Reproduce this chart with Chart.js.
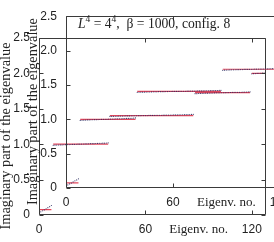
<!DOCTYPE html>
<html><head><meta charset="utf-8">
<script src="https://cdn.jsdelivr.net/npm/chart.js@4/dist/chart.umd.min.js"></script>
<style>
html,body{margin:0;padding:0;background:#fff;overflow:hidden;width:274px;height:242px}
.wrap{position:absolute;left:0;top:0}
</style></head><body>
<div class="wrap"><canvas id="back" width="274" height="242"></canvas></div>
<div class="wrap"><canvas id="front" width="300" height="242"></canvas></div>
<script>
// ---- data ----
// imaginary part of each eigenvalue, eigenvalue number = array index (0..127)
const level1Values = [0.03,0.045,0.06,0.072,0.088,0.104,0.118,0.134];
const level2Values = [0.984,0.986,0.987,0.989,0.990,0.990,0.992,0.993,0.994,0.994,0.996,0.997,0.998,0.999,1.000,1.000,
                      1.002,1.003,1.004,1.004,1.006,1.007,1.008,1.008,1.010,1.011,1.012,1.013,1.014,1.015,1.017,1.019];
const level3Values = [1.392,1.393,1.394,1.395,1.395,1.396,1.397,1.397,1.398,1.399,1.399,1.400,1.401,1.401,1.402,1.402,
                      1.403,1.403,1.404,1.404,1.405,1.405,1.406,1.406,1.407,1.407,1.408,1.408,1.409,1.409,1.410,1.410,
                      1.411,1.411,1.412,1.412,1.413,1.413,1.414,1.415,1.415,1.416,1.417,1.417,1.418,1.419,1.420,1.422];
const level4Values = [1.713,1.714,1.716,1.717,1.718,1.719,1.720,1.721,1.722,1.722,1.723,1.724,1.725,1.725,1.726,1.727,
                      1.727,1.728,1.729,1.729,1.730,1.731,1.731,1.732,1.733,1.733,1.734,1.735,1.736,1.737,1.738,1.740];
const level5Values = [1.994,1.996,1.998,1.999,2.001,2.002,2.004,2.006];
// red reference lines (one flat level per degenerate group)
const levelStart = [0, 8, 40, 88, 120];
const levelEnd   = [7, 39, 87, 119, 127];
const levelValue = [0.075, 1.0, 1.405, 1.728, 2.0];
// axes
const xTickValues = [0, 60, 120];
const xTitleAt = 90;
const xTitle = 'Eigenv. no.';
const yTitle = 'Imaginary part of the eigenvalue';
const xMax = 128, yMax = 2.5, yStep = 0.5;

const imagPart = [].concat(level1Values, level2Values, level3Values, level4Values, level5Values);
const dotPoints = imagPart.map((v, i) => ({x: i, y: v}));
const linePoints = [];
levelStart.forEach((s, k) => {
  linePoints.push({x: s, y: levelValue[k]});
  linePoints.push({x: levelEnd[k], y: levelValue[k]});
  linePoints.push({x: levelEnd[k] + 0.5, y: null});
});

const SANS = '"Liberation Sans", Arial, sans-serif';
const SERIF = '"Liberation Serif", "Times New Roman", serif';
const AX = '#3a3a3a';

function fitFont(c, txt, style, target) {
  c.font = style + '13px ' + SERIF;
  const w = c.measureText(txt).width;
  return 13 * target / w;
}

const deco = {
  id: 'deco',
  afterDraw(chart, args, o) {
    const c = chart.ctx, a = chart.chartArea;
    const xs = chart.scales.x, ys = chart.scales.y;
    c.save();
    c.strokeStyle = AX; c.lineWidth = 1;
    const L = Math.round(a.left) + 0.5, R = Math.round(a.right) - 0.5;
    const T = Math.round(a.top) + 0.5, B = Math.round(a.bottom) - 0.5;
    c.beginPath();
    c.rect(L, T, R - L, B - T);
    c.stroke();
    c.beginPath();
    xTickValues.forEach(v => {
      const p = Math.round(xs.getPixelForValue(v)) + 0.5;
      c.moveTo(p, B); c.lineTo(p, B - 4);
      c.moveTo(p, T); c.lineTo(p, T + 4);
    });
    ys.ticks.forEach(t => {
      const p = Math.round(ys.getPixelForValue(t.value)) + 0.5;
      c.moveTo(L, p); c.lineTo(L + 4, p);
      c.moveTo(R, p); c.lineTo(R - 4, p);
    });
    c.stroke();
    // y axis title
    c.fillStyle = '#222';
    const fs = fitFont(c, yTitle, '', 187);
    c.font = fs.toFixed(2) + 'px ' + SERIF;
    c.textAlign = 'center'; c.textBaseline = 'middle';
    c.translate(a.left - 32.5, (a.top + a.bottom) / 2 + 9.5);
    c.rotate(-Math.PI / 2);
    c.fillText(yTitle, 0, 0);
    c.restore();
    if (o.title) {
      c.save();
      c.fillStyle = '#222';
      c.textBaseline = 'alphabetic'; c.textAlign = 'left';
      const s = 13.6;
      let x = a.left + 12; const y = a.top + 12;
      const part = (txt, font, dy) => { c.font = font; c.fillText(txt, x, y + dy); x += c.measureText(txt).width; };
      part('L', 'italic ' + s + 'px ' + SERIF, 0);
      part('4', (s * 0.7).toFixed(1) + 'px ' + SERIF, -6);
      part(' = 4', s + 'px ' + SERIF, 0);
      part('4', (s * 0.7).toFixed(1) + 'px ' + SERIF, -6);
      part(',  \u03b2 = 1000, config. 8', s + 'px ' + SERIF, 0);
      c.restore();
    }
  }
};

function makeChart(id, pad, yW, xH, showTitle) {
  return new Chart(document.getElementById(id), {
    type: 'line',
    data: {
      datasets: [
        { data: dotPoints, showLine: false, pointRadius: 0.6, pointBackgroundColor: 'rgba(35,35,90,0.85)',
          pointBorderWidth: 0, pointHoverRadius: 0 },
        { data: linePoints, borderColor: '#e4485c', borderWidth: 1.2, pointRadius: 0, spanGaps: false, fill: false }
      ]
    },
    options: {
      responsive: false, animation: false, devicePixelRatio: 1,
      layout: { padding: pad },
      plugins: { legend: { display: false }, tooltip: { enabled: false }, deco: { title: showTitle } },
      scales: {
        x: {
          type: 'linear', min: 0, max: xMax,
          grid: { display: false, drawTicks: false }, border: { display: false },
          afterBuildTicks: s => { s.ticks = xTickValues.concat([xTitleAt]).map(v => ({value: v})); },
          afterFit: s => { s.height = xH; },
          ticks: {
            autoSkip: false, maxRotation: 0, padding: 7, color: '#222',
            callback: v => v === xTitleAt ? xTitle : String(v),
            font: ctx => (ctx.tick && ctx.tick.value === xTitleAt) ? { family: SERIF, size: 13 } : { family: SANS, size: 12 }
          }
        },
        y: {
          type: 'linear', min: 0, max: yMax,
          grid: { display: false, drawTicks: false }, border: { display: false },
          afterFit: s => { s.width = yW; },
          ticks: { stepSize: yStep, padding: 9, color: '#222', font: { family: SANS, size: 12 } }
        }
      }
    },
    plugins: [deco]
  });
}

makeChart('back', { left: 0, top: 38, right: 8, bottom: 0 }, 39, 27, false);
makeChart('front', { left: 0, top: 12, right: 6, bottom: 0 }, 66, 54, true);
</script>
</body></html>
